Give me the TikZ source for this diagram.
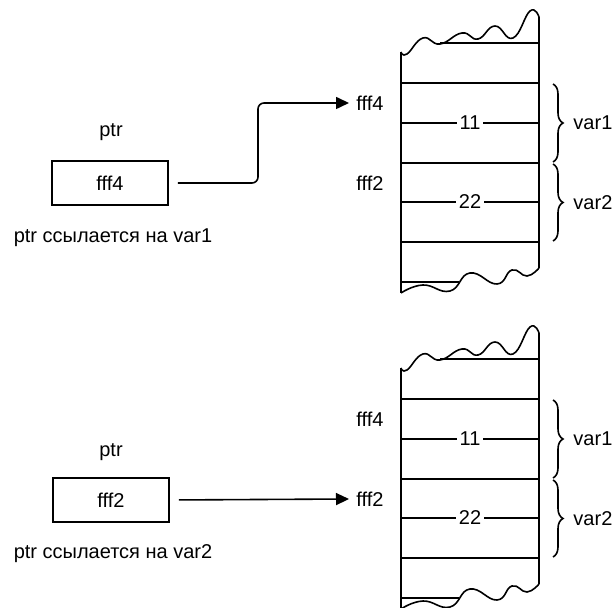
\documentclass[tikz,border=0pt]{standalone}
\usepackage{fontspec}
\setmainfont{Liberation Sans}
\usetikzlibrary{arrows.meta,decorations.pathreplacing}

\begin{document}
\begin{tikzpicture}[
        x=0.5pt, y=-0.5pt,
        font=\fontsize{10}{12}\selectfont,
        line width=0.8pt,
        ptrbox/.style={
            draw,
            minimum width=58pt,
            minimum height=22pt,
            inner sep=0pt
        },
        value/.style={fill=white, inner sep=1.5pt},
        ptrarrow/.style={-{Triangle[length=6.5pt,width=6pt]}, shorten <=4.5pt},
        membrace/.style={decorate, decoration={brace, amplitude=5pt}}
    ]
        \clip (0,0) rectangle (616,608);

        % memory, twice
        \foreach \dy/\nm in {0/A,316/B}{
            \begin{scope}[shift={(0,\dy)}]
                \draw plot[smooth, tension=0.8] coordinates
                    {(401,52) (407,54) (423,38) (440,44) (462,33) (478,39) (495,26) (513,38) (530,11) (539,17)};
                \draw plot[smooth, tension=0.8] coordinates
                    {(401,293) (423,285) (450,291) (470,273) (497,284) (512,270) (527,276) (539,268)};
                \draw (401,52) -- (401,293);
                \draw (539,17) -- (539,268);
                \draw (440,43) -- (539,43);
                \draw (401,282) -- (459,282);
                \foreach \y in {83,123,163,202,242}
                    \draw (401,\y) -- (539,\y);
                \node[value] (v11\nm) at (470,123) {11};
                \node[value] (v22\nm) at (470,202) {22};
                \node (addr4\nm) at (370,103) {fff4};
                \node (addr2\nm) at (370,183) {fff2};
                \draw[membrace] (553,84) -- (553,162)
                    node[midway, right=6.5pt] (var1\nm) {var1};
                \draw[membrace] (553,164) -- (553,241)
                    node[midway, right=6.5pt] (var2\nm) {var2};
            \end{scope}
        }

        % pointer to var1
        \node (ptrA) at (111,132) {ptr};
        \node[ptrbox] (boxA) at (110,183) {fff4};
        \node (noteA) at (113,238) {ptr ссылается на var1};
        \draw[ptrarrow, rounded corners=3pt] (boxA.east) -- (258,183) |- (addr4A.west);

        % pointer to var2
        \node (ptrB) at (111,452) {ptr};
        \node[ptrbox] (boxB) at (111,500) {fff2};
        \node (noteB) at (113,554) {ptr ссылается на var2};
        \draw[ptrarrow] (boxB.east) -- (addr2B.west);
    \end{tikzpicture}
\end{document}
